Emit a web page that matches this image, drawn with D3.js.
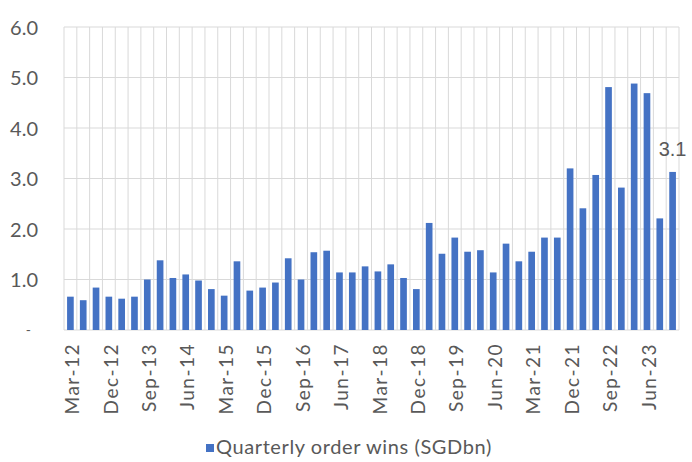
<!DOCTYPE html>
<html>
<head>
<meta charset="utf-8">
<script src="https://cdn.jsdelivr.net/npm/d3@7"></script>
<style>
  html, body { margin: 0; padding: 0; background: #fff; }
  svg { display: block; }
</style>
</head>
<body>
<svg id="chart" width="692" height="462"></svg>
<script>
const quarters = [];
const months = ["Mar", "Jun", "Sep", "Dec"];
for (let y = 12; y <= 23; y++) for (const m of months) quarters.push(m + "-" + y);

const orderWins = [
  0.66, 0.59, 0.84, 0.66, 0.62, 0.66, 1.00, 1.38, 1.03, 1.10, 0.98, 0.81,
  0.68, 1.36, 0.78, 0.84, 0.94, 1.42, 1.00, 1.54, 1.57, 1.14, 1.14, 1.26,
  1.16, 1.30, 1.03, 0.81, 2.12, 1.51, 1.83, 1.55, 1.58, 1.14, 1.71, 1.36,
  1.55, 1.83, 1.83, 3.20, 2.41, 3.07, 4.81, 2.82, 4.88, 4.69, 2.21, 3.13
];
const yTicks = [0, 1, 2, 3, 4, 5, 6];
const xTickLabels = ["Mar-12","Dec-12","Sep-13","Jun-14","Mar-15","Dec-15","Sep-16","Jun-17",
  "Mar-18","Dec-18","Sep-19","Jun-20","Mar-21","Dec-21","Sep-22","Jun-23"];
const seriesName = "Quarterly order wins (SGDbn)";
const lastLabel = "3.1";

const svg = d3.select("#chart");
const margin = { left: 64, right: 13, top: 27, bottom: 132 };
const W = 692, H = 462;
const x = d3.scaleBand().domain(quarters).range([margin.left, W - margin.right]).paddingInner(0.48).paddingOuter(0.24);
const y = d3.scaleLinear().domain([0, 6]).range([330, 27]);
const grid = "#d9d9d9";
const textCol = "#595959";
const font = "Lato, 'Open Sans', sans-serif";

// vertical gridlines at category boundaries
const bounds = d3.range(quarters.length + 1).map(i => margin.left + i * ((W - margin.right - margin.left) / quarters.length));
svg.append("g").selectAll("line").data(bounds).join("line")
  .attr("x1", d => d).attr("x2", d => d)
  .attr("y1", y(6)).attr("y2", y(0))
  .attr("stroke", grid).attr("stroke-width", 1);

// horizontal gridlines
svg.append("g").selectAll("line").data(yTicks).join("line")
  .attr("x1", margin.left).attr("x2", W - margin.right)
  .attr("y1", d => y(d)).attr("y2", d => y(d))
  .attr("stroke", grid).attr("stroke-width", 1);

// bars
svg.append("g").selectAll("rect").data(orderWins).join("rect")
  .attr("x", (d, i) => x(quarters[i]))
  .attr("width", x.bandwidth())
  .attr("y", d => y(d))
  .attr("height", d => y(0) - y(d))
  .attr("fill", "#4472C4");

// y axis labels
const yAxis = d3.axisLeft(y).tickValues(yTicks).tickSize(0).tickPadding(0)
  .tickFormat(d => d === 0 ? "-" : d3.format(".1f")(d));
const gy = svg.append("g").attr("transform", "translate(38,0)").call(yAxis);
gy.select(".domain").remove();
gy.selectAll("text").attr("fill", textCol).attr("font-family", font).attr("font-size", 20)
  .attr("dy", "0.35em");
gy.selectAll(".tick").filter(d => d === 0).select("text").attr("x", -7).attr("font-size", 14);

// x axis labels
const xAxis = d3.axisBottom(x).tickValues(xTickLabels).tickSize(0);
const gx = svg.append("g").attr("transform", `translate(0,${y(0)})`).call(xAxis);
gx.select(".domain").remove();
gx.selectAll("text")
  .attr("fill", textCol).attr("font-family", font).attr("font-size", 19)
  .attr("letter-spacing", 1.5)
  .attr("text-anchor", "end")
  .attr("transform", "rotate(-90)")
  .attr("x", -13).attr("y", 2).attr("dy", "0.35em");

// last value label
const lastQ = quarters[quarters.length - 1];
svg.append("text")
  .attr("x", x(lastQ) + x.bandwidth() / 2)
  .attr("y", y(orderWins[orderWins.length - 1]) - 16)
  .attr("text-anchor", "middle")
  .attr("fill", textCol).attr("font-family", "'Liberation Sans', Arial, sans-serif").attr("font-size", 20)
  .text(lastLabel);

// legend
const lg = svg.append("g").attr("transform", "translate(206,442)");
lg.append("rect").attr("width", 8).attr("height", 8).attr("y", 2).attr("fill", "#4472C4");
lg.append("text").attr("x", 10).attr("y", 5).attr("dy", "0.35em")
  .attr("fill", textCol).attr("font-family", font).attr("font-size", 20)
  .attr("letter-spacing", 0.6)
  .text(seriesName);
</script>
</body>
</html>
